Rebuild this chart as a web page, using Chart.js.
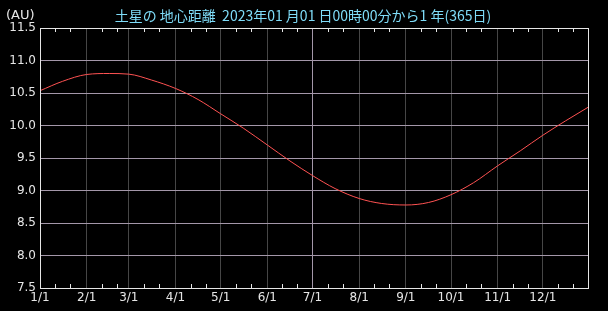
<!DOCTYPE html>
<html>
<head>
<meta charset="utf-8">
<script src="https://cdn.jsdelivr.net/npm/chart.js@4/dist/chart.umd.min.js"></script>
<style>
  html, body { margin: 0; padding: 0; background: #000; }
  #wrap { width: 608px; height: 311px; }
</style>
</head>
<body>
<div id="wrap"><canvas id="distChart" width="608" height="311"></canvas></div>
<script>
// day of year (0 = 1/1) and distance in AU
var days = [0, 15, 31, 46, 59, 74, 90, 105, 120, 135, 151, 166, 181, 196, 212, 227, 243, 258, 273, 288, 304, 319, 334, 349, 364];
var dist = [10.535, 10.68, 10.785, 10.80, 10.79, 10.70, 10.57, 10.40, 10.18, 9.96, 9.70, 9.455, 9.23, 9.03, 8.877, 8.80, 8.777, 8.815, 8.935, 9.12, 9.38, 9.61, 9.85, 10.07, 10.28];

var monthDays = [0, 31, 59, 90, 120, 151, 181, 212, 243, 273, 304, 334];
var monthLabels = ['1/1', '2/1', '3/1', '4/1', '5/1', '6/1', '7/1', '8/1', '9/1', '10/1', '11/1', '12/1'];
var minorDays = [10, 20, 41, 51, 69, 79, 100, 110, 130, 140, 161, 171, 191, 201, 222, 232, 253, 263, 283, 293, 314, 324, 344, 354];

var titleText = '土星の 地心距離  2023年01 月01 日00時00分から1 年(365日)';
var unitText = '(AU)';

var gridPurple = '#a497a9';
var gridDark = '#464646';
var frameColor = '#e6e6e6';
var labelFont = { family: 'DejaVu Sans', size: 12 };

var points = days.map(function(d, i){
    return { x: d, y: dist[i] };
});

var chartDecor = {
    id: 'chartDecor',
    beforeDraw: function(chart){
        var ctx = chart.ctx;
        ctx.save();
        ctx.fillStyle = '#000';
        ctx.fillRect(0, 0, chart.width, chart.height);
        ctx.restore();
    },
    afterDraw: function(chart){
        var ctx = chart.ctx;
        var area = chart.chartArea;
        var xs = chart.scales.x;
        ctx.save();
        // frame
        ctx.strokeStyle = frameColor;
        ctx.lineWidth = 1;
        ctx.strokeRect(Math.round(area.left) + 0.5, Math.round(area.top) + 0.5,
            Math.round(area.right - area.left), Math.round(area.bottom - area.top));
        // minor ticks top and bottom
        minorDays.forEach(function(d){
            var px = Math.round(xs.getPixelForValue(d)) + 0.5;
            ctx.beginPath();
            ctx.moveTo(px, area.top);
            ctx.lineTo(px, area.top + 4);
            ctx.moveTo(px, area.bottom);
            ctx.lineTo(px, area.bottom - 4);
            ctx.stroke();
        });
        // title and unit
        ctx.font = '14px "Noto Sans CJK JP"';
        ctx.textBaseline = 'middle';
        ctx.fillStyle = '#7fdcf8';
        ctx.textAlign = 'center';
        ctx.fillText(titleText, 303, 16);
        ctx.fillStyle = frameColor;
        ctx.textAlign = 'left';
        ctx.font = '13px "DejaVu Sans"';
        ctx.fillText(unitText, 6, 16);
        ctx.restore();
    }
};

var ctxD = document.getElementById('distChart').getContext('2d');
var distChart = new Chart(ctxD, {
    type: 'line',
    data: {
        datasets: [
            {
                data: points,
                borderColor: '#ff5252',
                borderWidth: 1,
                pointRadius: 0,
                cubicInterpolationMode: 'monotone',
                fill: false
            }
        ]
    },
    options: {
        responsive: false,
        animation: false,
        layout: { padding: { top: 28, right: 20, left: 0, bottom: 0 } },
        plugins: {
            legend: { display: false },
            tooltip: { enabled: false }
        },
        scales: {
            x: {
                type: 'linear',
                min: 0,
                max: 364,
                afterBuildTicks: function(scale){
                    scale.ticks = monthDays.map(function(d){ return { value: d }; });
                },
                afterFit: function(scale){ scale.height = 23; },
                grid: {
                    drawTicks: false,
                    color: function(c){
                        return c.tick && c.tick.value === 181 ? gridPurple : gridDark;
                    }
                },
                border: { display: false },
                ticks: {
                    color: '#e6e6e6',
                    font: labelFont,
                    padding: 3,
                    maxRotation: 0,
                    autoSkip: false,
                    callback: function(v){
                        var i = monthDays.indexOf(v);
                        return i >= 0 ? monthLabels[i] : '';
                    }
                }
            },
            y: {
                min: 7.5,
                max: 11.5,
                afterFit: function(scale){ scale.width = 40; },
                grid: { drawTicks: false, color: gridPurple },
                border: { display: false },
                ticks: {
                    stepSize: 0.5,
                    color: '#e6e6e6',
                    font: labelFont,
                    padding: 4,
                    callback: function(v){ return v.toFixed(1); }
                }
            }
        }
    },
    plugins: [chartDecor]
});
</script>
</body>
</html>
